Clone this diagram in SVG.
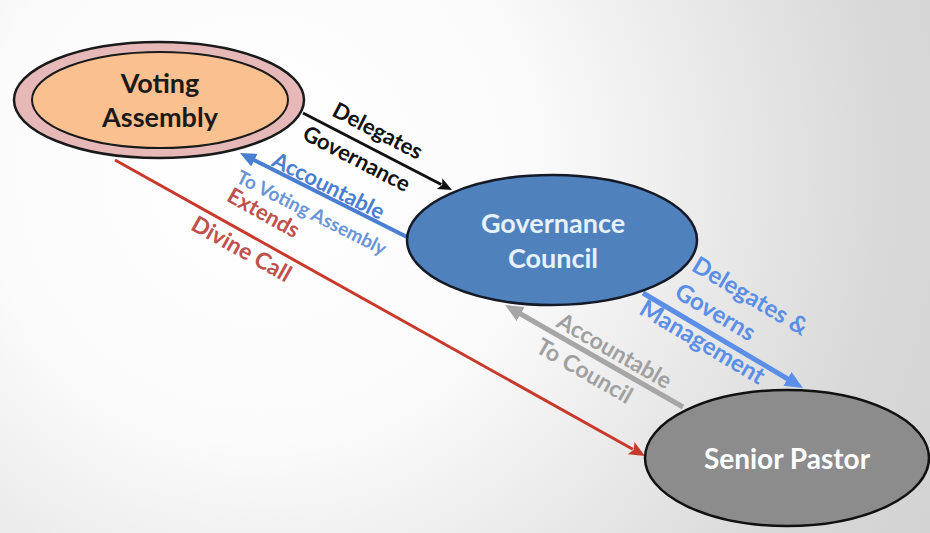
<svg xmlns="http://www.w3.org/2000/svg" width="930" height="533" viewBox="0 0 930 533">
  <defs>
    <radialGradient id="bg" cx="260" cy="170" r="780" gradientUnits="userSpaceOnUse">
      <stop offset="0" stop-color="#ffffff"/>
      <stop offset="0.35" stop-color="#fbfbfb"/>
      <stop offset="0.8" stop-color="#d9d9d9"/>
      <stop offset="1" stop-color="#d2d2d2"/>
    </radialGradient>
    <marker id="mBlack" markerUnits="userSpaceOnUse" markerWidth="16" markerHeight="14" refX="2" refY="7" orient="auto">
      <path d="M0,1 L14,7 L0,13 L3,7 z" fill="#111111"/>
    </marker>
    <marker id="mBlueL" markerUnits="userSpaceOnUse" markerWidth="18" markerHeight="16" refX="2" refY="8" orient="auto">
      <path d="M0,1 L16,8 L0,15 z" fill="#4a7ed0"/>
    </marker>
    <marker id="mRed" markerUnits="userSpaceOnUse" markerWidth="18" markerHeight="16" refX="2" refY="8" orient="auto">
      <path d="M0,1 L16,8 L0,15 L3,8 z" fill="#c8392b"/>
    </marker>
    <marker id="mBlueR" markerUnits="userSpaceOnUse" markerWidth="20" markerHeight="18" refX="2" refY="9" orient="auto">
      <path d="M0,1 L18,9 L0,17 z" fill="#5b8ee6"/>
    </marker>
    <marker id="mGray" markerUnits="userSpaceOnUse" markerWidth="20" markerHeight="18" refX="2" refY="9" orient="auto">
      <path d="M0,1 L18,9 L0,17 z" fill="#a6a6a6"/>
    </marker>
  </defs>
  <style>
    .lbl { font-family: Lato, "Open Sans", "Liberation Sans", sans-serif; font-weight: bold; text-anchor: middle; dominant-baseline: central; }
    .node { font-family: Lato, "Open Sans", "Liberation Sans", sans-serif; font-weight: bold; text-anchor: middle; dominant-baseline: central; }
    .conn { fill: none; }
  </style>

  <rect x="0" y="0" width="930" height="533" fill="url(#bg)"/>

  <g id="connectors">
    <line class="conn" x1="303" y1="113" x2="441.3" y2="184.5" stroke="#111111" stroke-width="3" marker-end="url(#mBlack)"/>
    <line class="conn" x1="407" y1="237" x2="252.5" y2="159.3" stroke="#4a7ed0" stroke-width="4" marker-end="url(#mBlueL)"/>
    <line class="conn" x1="115" y1="160" x2="632.8" y2="449.2" stroke="#c8392b" stroke-width="3" marker-end="url(#mRed)"/>
    <line class="conn" x1="643" y1="293" x2="789.2" y2="379.8" stroke="#5b8ee6" stroke-width="5" marker-end="url(#mBlueR)"/>
    <line class="conn" x1="683" y1="407" x2="518.9" y2="313" stroke="#a6a6a6" stroke-width="5" marker-end="url(#mGray)"/>

    <g id="lbl-delegates-governance" fill="#111111">
      <text class="lbl" x="378" y="130" font-size="22" transform="rotate(27.3 378 130)">Delegates</text>
      <text class="lbl" x="357" y="158" font-size="22" transform="rotate(27.3 357 158)">Governance</text>
    </g>
    <g id="lbl-accountable-va" fill="#4a7ed0">
      <text class="lbl" x="329" y="185" font-size="22" transform="rotate(26.7 329 185)">Accountable</text>
      <text class="lbl" x="312" y="212" font-size="19" transform="rotate(26.7 312 212)" fill="#6a94d8">To Voting Assembly</text>
    </g>
    <g id="lbl-divine-call" fill="#c0504d">
      <text class="lbl" x="264" y="212" font-size="22" transform="rotate(29.2 264 212)">Extends</text>
      <text class="lbl" x="242" y="248" font-size="23" transform="rotate(29.2 242 248)">Divine Call</text>
    </g>
    <g id="lbl-delegates-management" fill="#5b8ee6">
      <text class="lbl" x="751" y="295" font-size="24" transform="rotate(30.7 751 295)">Delegates &amp;</text>
      <text class="lbl" x="716" y="311" font-size="24" transform="rotate(30.7 716 311)">Governs</text>
      <text class="lbl" x="703" y="341" font-size="24" transform="rotate(30.7 703 341)">Management</text>
    </g>
    <g id="lbl-accountable-council" fill="#a0a0a0">
      <text class="lbl" x="615" y="350" font-size="23" transform="rotate(29.8 615 350)">Accountable</text>
      <text class="lbl" x="585" y="370" font-size="23" transform="rotate(29.8 585 370)">To Council</text>
    </g>
  </g>

  <g id="voting-assembly">
    <ellipse cx="159" cy="100" rx="145" ry="58" fill="#e6b9b8" stroke="#1a1a1a" stroke-width="2.5"/>
    <ellipse cx="160" cy="100" rx="128" ry="48" fill="#fac08f" stroke="#1a1a1a" stroke-width="2"/>
    <text class="node" x="160" y="82" font-size="27" fill="#1a1a1a">Voting</text>
    <text class="node" x="160" y="116" font-size="27" fill="#1a1a1a">Assembly</text>
  </g>

  <g id="governance-council">
    <ellipse cx="552" cy="240" rx="145" ry="65" fill="#4f81bd" stroke="#141a26" stroke-width="2.5"/>
    <text class="node" x="553" y="222" font-size="27" fill="#e8f0fa">Governance</text>
    <text class="node" x="553" y="257" font-size="27" fill="#e8f0fa">Council</text>
  </g>

  <g id="senior-pastor">
    <ellipse cx="787" cy="458" rx="142" ry="68" fill="#8c8c8c" stroke="#111111" stroke-width="2.5"/>
    <text class="node" x="787" y="458" font-size="28" fill="#ffffff">Senior Pastor</text>
  </g>
</svg>
